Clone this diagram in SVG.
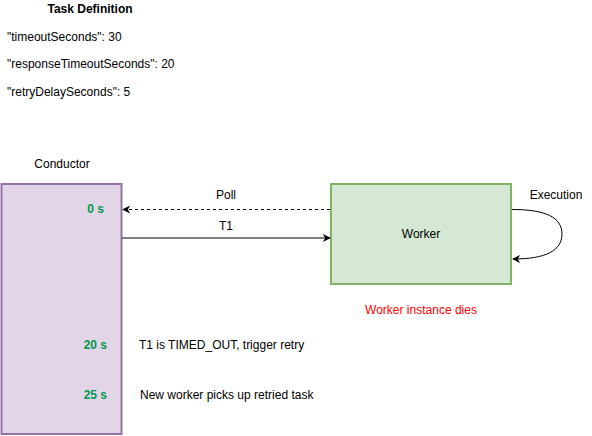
<svg xmlns="http://www.w3.org/2000/svg" width="592" height="436" viewBox="0 0 592 436">
<style>
text{font-family:"Liberation Sans",Arial,sans-serif;font-size:12px;fill:#000}
.b{font-weight:bold}
.g{fill:#00994D;font-weight:bold}
.r{fill:#FF0000}
.c{stroke:#000;stroke-width:1;fill:none}
</style>
<defs>
<marker id="ah" viewBox="0 0 10 10" refX="9" refY="5" markerWidth="8" markerHeight="8" markerUnits="userSpaceOnUse" orient="auto">
<path d="M0,0 L10,5 L0,10 L3,5 Z" fill="#000"/>
</marker>
</defs>
<rect width="592" height="436" fill="#fff"/>
<g id="taskdef">
<text class="b" x="90" y="13" text-anchor="middle">Task Definition</text>
<text x="7" y="41">"timeoutSeconds": 30</text>
<text x="7" y="68">"responseTimeoutSeconds": 20</text>
<text x="7" y="96">"retryDelaySeconds": 5</text>
</g>
<g id="conductor">
<text x="62" y="168" text-anchor="middle">Conductor</text>
<rect x="1.5" y="184" width="120" height="250" fill="#e1d5e7" stroke="#9673a6" stroke-width="2"/>
<text class="g" x="104" y="213" text-anchor="end">0 s</text>
<text class="g" x="107" y="349" text-anchor="end">20 s</text>
<text class="g" x="107" y="399" text-anchor="end">25 s</text>
</g>
<g id="worker">
<rect x="331" y="184" width="180" height="100" fill="#d5e8d4" stroke="#82b366" stroke-width="2"/>
<text x="421" y="238" text-anchor="middle">Worker</text>
<text class="r" x="421" y="314" text-anchor="middle">Worker instance dies</text>
</g>
<g id="notes">
<text x="139" y="349">T1 is TIMED_OUT, trigger retry</text>
<text x="140" y="399">New worker picks up retried task</text>
</g>
<g id="connectors">
<path class="c" d="M330,209.5 L123,209.5" stroke-dasharray="3,3" marker-end="url(#ah)"/>
<text x="226" y="199" text-anchor="middle">Poll</text>
<path class="c" d="M122,238 L330,238" marker-end="url(#ah)"/>
<text x="226" y="230" text-anchor="middle">T1</text>
<path class="c" d="M512,209.5 C545,209.5 562,217 562,234 C562,251 545,259 513,259" marker-end="url(#ah)"/>
<text x="556" y="199" text-anchor="middle">Execution</text>
</g>
</svg>
